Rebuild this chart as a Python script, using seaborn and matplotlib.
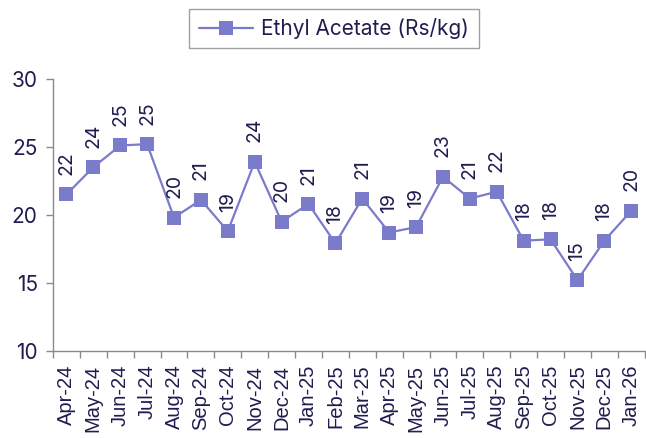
import numpy as np
import pandas as pd
import matplotlib
matplotlib.use("Agg")
import matplotlib.pyplot as plt
from matplotlib.ticker import FixedLocator
import seaborn as sns

months = ["Apr-24", "May-24", "Jun-24", "Jul-24", "Aug-24", "Sep-24", "Oct-24",
          "Nov-24", "Dec-24", "Jan-25", "Feb-25", "Mar-25", "Apr-25", "May-25",
          "Jun-25", "Jul-25", "Aug-25", "Sep-25", "Oct-25", "Nov-25", "Dec-25",
          "Jan-26"]
price = [21.5, 23.5, 25.1, 25.2, 19.8, 21.1, 18.8, 23.9, 19.5, 20.8, 17.9, 21.2,
         18.7, 19.1, 22.8, 21.2, 21.7, 18.1, 18.2, 15.2, 18.1, 20.3]
series_name = "Ethyl Acetate (Rs/kg)"

line_color = "#7b7bcc"
text_color = "#1f1d4f"
spine_color = "#8a8a8a"

sns.set_style("ticks")
plt.rcParams["font.family"] = ["Inter", "DejaVu Sans"]

df = pd.DataFrame({"month": months, "price": price})
df["pos"] = np.arange(len(df))

fig = plt.figure(figsize=(6.46, 4.38), dpi=100)
ax = fig.add_axes([0.082, 0.199, 0.916, 0.621])

sns.lineplot(data=df, x="pos", y="price", ax=ax, color=line_color, linewidth=1.6,
             marker="s", markersize=10.5, markeredgewidth=0, label=series_name)

for x, y in zip(df["pos"], df["price"]):
    ax.annotate(f"{y:.0f}", (x, y), xytext=(0, 14), textcoords="offset points",
                rotation=90, ha="center", va="bottom", fontsize=14, color=text_color)

ax.set_xlim(-0.5, len(df) - 0.5)
ax.set_ylim(10, 30)
ax.set_yticks([10, 15, 20, 25, 30])
ax.set_xticks(df["pos"])
ax.set_xticklabels(months, rotation=90, fontsize=14.5, color=text_color,
                   family=["Liberation Sans", "DejaVu Sans"])
ax.xaxis.set_minor_locator(FixedLocator(np.arange(-0.5, len(df), 1)))
ax.tick_params(axis="x", which="major", bottom=True, length=0, pad=10)
ax.tick_params(axis="x", which="minor", bottom=True, direction="out", length=5,
               color=spine_color, width=1)
ax.tick_params(axis="y", left=True, direction="out", length=5, color=spine_color,
               width=1, labelsize=15, labelcolor=text_color, pad=6)
ax.set_xlabel("")
ax.set_ylabel("")

for side in ["top", "right"]:
    ax.spines[side].set_visible(False)
for side in ["left", "bottom"]:
    ax.spines[side].set_color(spine_color)
    ax.spines[side].set_linewidth(1)

leg = ax.legend(loc="center", bbox_to_anchor=(0.517, 0.935),
                bbox_transform=fig.transFigure, fancybox=False, frameon=True,
                edgecolor=spine_color, fontsize=15, handlelength=2.6,
                handletextpad=0.4, borderpad=0.45, borderaxespad=0)
for t in leg.get_texts():
    t.set_color(text_color)
leg.get_frame().set_linewidth(1)

fig.savefig("out.png", dpi=100)
